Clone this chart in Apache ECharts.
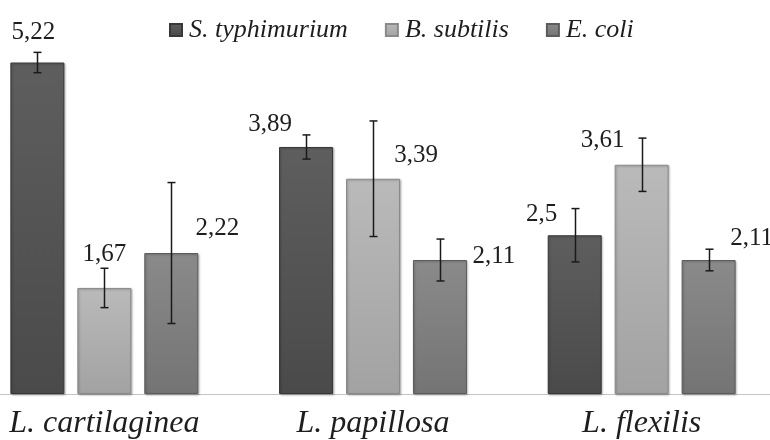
<!DOCTYPE html>
<html><head><meta charset="utf-8">
<script src="https://cdn.jsdelivr.net/npm/echarts@6/dist/echarts.min.js"></script>
<style>html,body{margin:0;padding:0;background:#fff;overflow:hidden;width:770px;height:440px}#c{width:806px;height:440px;margin-left:-30px}</style>
</head><body><div id="c"></div><script>
// ---- data ----
const categories = ['L. cartilaginea', 'L. papillosa', 'L. flexilis'];
const seriesNames = ['S. typhimurium', 'B. subtilis', 'E. coli'];
const typhimurium = [5.22, 3.89, 2.5];
const subtilis = [1.67, 3.39, 3.61];
const coli = [2.22, 2.11, 2.11];
const typhimuriumErr = [0.16, 0.19, 0.42];
const subtilisErr = [0.31, 0.91, 0.42];
const coliErr = [1.11, 0.33, 0.17];

// ---- layout / style (not data) ----
const BAR_W = 54, GAP = 0.24;
const labelShift = [
  [[-4, -30], [-36, -23], [-33, -21]],
  [[0, -34], [43, -23], [-39, -24]],
  [[46, -25], [54, -4], [43, -22]]
];
const fills = [
  ['#5e5e5e', '#4a4a4a', '#383838'],
  ['#bababa', '#a2a2a2', '#8a8a8a'],
  ['#8a8a8a', '#747474', '#5c5c5c']
];
const values = [typhimurium, subtilis, coli];
const errs = [typhimuriumErr, subtilisErr, coliErr];

const fmt = v => String(v).replace('.', ',');

const barSeries = seriesNames.map((name, s) => ({
  name: name,
  type: 'bar',
  barWidth: BAR_W,
  barGap: (GAP * 100) + '%',
  itemStyle: {
    color: new echarts.graphic.LinearGradient(0, 0, 0, 1, [
      {offset: 0, color: fills[s][0]}, {offset: 1, color: fills[s][1]}
    ]),
    borderColor: fills[s][2], borderWidth: 1,
    shadowColor: 'rgba(0,0,0,0.25)', shadowBlur: 2, shadowOffsetX: 1, shadowOffsetY: 1
  },
  data: values[s].map((v, i) => ({
    value: v,
    label: {offset: labelShift[s][i]}
  })),
  label: {
    show: true, position: 'top', distance: 0, verticalAlign: 'middle',
    fontFamily: 'Liberation Serif', fontSize: 25, color: '#1e1e1e',
    formatter: p => fmt(p.value)
  },
  z: 2
}));

const errData = [];
values.forEach((arr, s) => arr.forEach((v, i) => {
  errData.push([i, s, v - errs[s][i], v + errs[s][i]]);
}));

const errSeries = {
  type: 'custom',
  name: 'err',
  data: errData,
  encode: {x: 0, y: [2, 3]},
  z: 10,
  silent: true,
  renderItem: (params, api) => {
    const cat = api.value(0), s = api.value(1);
    const lo = api.coord([cat, api.value(2)]);
    const hi = api.coord([cat, api.value(3)]);
    const x = Math.round(lo[0] + (s - 1) * BAR_W * (1 + GAP)) + 0.5;
    const cap = 4;
    const st = {stroke: '#1a1a1a', lineWidth: 1.5};
    return {type: 'group', children: [
      {type: 'line', shape: {x1: x, y1: lo[1], x2: x, y2: hi[1]}, style: st},
      {type: 'line', shape: {x1: x - cap, y1: lo[1], x2: x + cap, y2: lo[1]}, style: st},
      {type: 'line', shape: {x1: x - cap, y1: hi[1], x2: x + cap, y2: hi[1]}, style: st}
    ]};
  }
};

const chart = echarts.init(document.getElementById('c'), null, {renderer: 'canvas'});
chart.setOption({
  animation: false,
  backgroundColor: '#ffffff',
  legend: {
    data: seriesNames,
    left: 194, top: 12,
    itemWidth: 12, itemHeight: 12, itemGap: 37,
    icon: 'rect',
    textStyle: {fontFamily: 'Liberation Serif', fontStyle: 'italic', fontSize: 26, color: '#1e1e1e', padding: [0, 0, 0, 2]}
  },
  grid: {left: 0, right: 0, top: 13, bottom: 43},
  xAxis: {
    type: 'category', data: categories,
    axisLine: {lineStyle: {color: '#c4c4c4', width: 1}},
    axisTick: {show: false},
    axisLabel: {fontFamily: 'Liberation Serif', fontStyle: 'italic', fontSize: 32, color: '#1e1e1e', margin: 14}
  },
  yAxis: {type: 'value', min: 0, max: 6, show: false, splitLine: {show: false}},
  series: barSeries.concat([errSeries])
});
</script></body></html>
